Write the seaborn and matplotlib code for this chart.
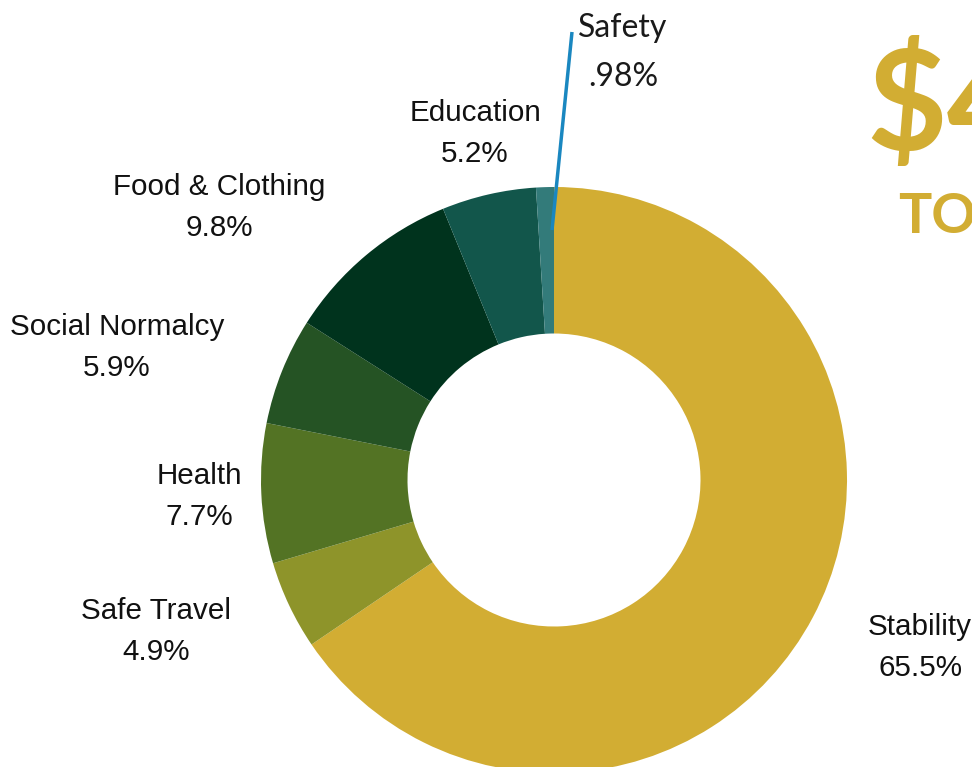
import matplotlib
matplotlib.use("Agg")
import matplotlib.pyplot as plt
import seaborn as sns

categories = ["Stability", "Safe Travel", "Health", "Social Normalcy",
              "Food & Clothing", "Education", "Safety"]
values = [65.5, 4.9, 7.7, 5.9, 9.8, 5.2, 0.98]
pct_labels = ["65.5%", "4.9%", "7.7%", "5.9%", "9.8%", "5.2%", ".98%"]
colors = ["#D2AD33", "#8E942A", "#537324", "#255324", "#00331D", "#12564B", "#337B7A"]

sns.set_style("white")
palette = sns.color_palette(colors)

W, H = 972, 767
fig = plt.figure(figsize=(W / 100, H / 100), dpi=100)
ax = fig.add_axes([0, 0, 1, 1])

cx, cy, R = 554, H - 480, 293
ax.pie(values, colors=palette, startangle=90, counterclock=False,
       center=(cx, cy), radius=R, frame=True,
       wedgeprops=dict(width=R * 0.5, linewidth=0))
ax.set_xlim(0, W)
ax.set_ylim(0, H)
ax.set_aspect("equal")
ax.axis("off")

font = ["Liberation Sans", "DejaVu Sans"]
fs = 21.3
# label positions in pixel (top-origin) coordinates
label_pos = {
    "Stability": (868, 627, "left"),
    "Safe Travel": (156, 611, "center"),
    "Health": (199, 476, "center"),
    "Social Normalcy": (117, 327, "center"),
    "Food & Clothing": (219, 187, "center"),
    "Education": (475, 113, "center"),
}
for cat, pct in zip(categories, pct_labels):
    if cat == "Safety":
        continue
    x, y, ha = label_pos[cat]
    xp = x + 10 if ha == "left" else x
    ax.text(x, H - y, cat, ha=ha, va="center", fontsize=fs, family=font, color="#111111")
    ax.text(xp, H - (y + 41), pct, ha=ha, va="center", fontsize=fs, family=font, color="#111111")

# Safety label with leader line
lato = ["Lato", "DejaVu Sans"]
ax.plot([572, 552], [H - 32, H - 230], color="#1A87C0", lw=2.5, solid_capstyle="butt")
ax.text(623, H - 28, "Safety", ha="center", va="center", fontsize=23,
        family=lato, color="#1a1a1a")
ax.text(623, H - 77, ".98%", ha="center", va="center", fontsize=23,
        family=lato, color="#1a1a1a")

# Big gold heading (cropped at right)
gold = "#D2AD33"
ax.text(866, H - 108, "$4", ha="left", va="center", fontsize=100, fontweight="bold",
        family=lato, color=gold)
ax.text(898, H - 217, "TOTAL", ha="left", va="center", fontsize=40, fontweight="bold",
        family=lato, color=gold)

fig.savefig("out.png", dpi=100)
